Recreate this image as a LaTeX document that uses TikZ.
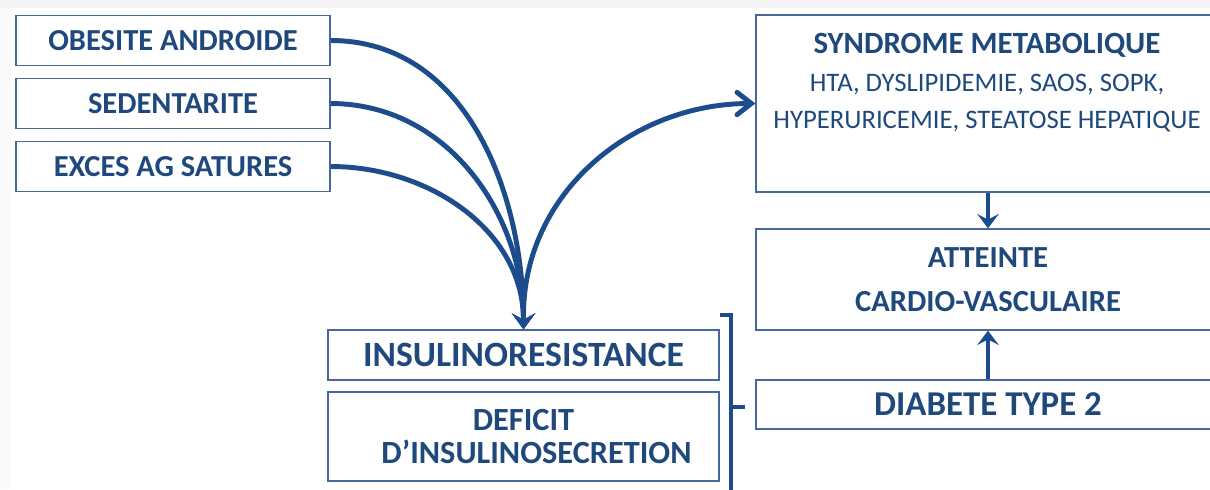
\documentclass[tikz,border=0pt]{standalone}
\usepackage{fontspec}
\setmainfont{Carlito}
\usetikzlibrary{positioning, arrows.meta, calc}
\definecolor{navy}{RGB}{31,73,125}
\definecolor{arrblue}{RGB}{28,76,140}
\definecolor{boxline}{RGB}{72,104,155}

\begin{document}
\begin{tikzpicture}[
    cause/.style={draw=boxline, line width=0.9pt, minimum width=7.85cm, minimum height=1.25cm,
      text=navy, font=\fontsize{21.7}{25}\selectfont\bfseries},
    rbox/.style={draw=boxline, line width=0.9pt, minimum width=11.6cm, text=navy, align=center},
    mbox/.style={draw=boxline, line width=0.9pt, minimum width=9.775cm, text=navy, align=center,
      font=\fontsize{23}{22.8}\selectfont\bfseries},
    txt/.style={text=navy, inner sep=0pt},
    arr/.style={draw=arrblue, line width=3.5pt, -{Stealth[length=4mm,width=5.8mm,inset=1.6mm]}},
    barb/.style={draw=arrblue, line width=3.5pt, line cap=round,
      -{Straight Barb[length=3.6mm,width=5.6mm,line cap=round]}},
    sarr/.style={draw=arrblue, line width=2.6pt, -{Stealth[length=3.6mm,width=5.4mm,inset=1.4mm]}}
  ]
\clip (0,0) rectangle (30.25,-12.225);
% light strips of the screenshot
\fill[gray!9] (0,0) rectangle (30.25,-0.2);
\fill[gray!4] (0,-0.2) rectangle (0.28,-12.225);

% =================== causes (left) ===================
\node[cause] (obes) at (4.325,-1.0125) {OBESITE ANDROIDE};
\node[cause] (sed) at (4.325,-2.5875) {SEDENTARITE};
\node[cause] (exc) at (4.325,-4.1625) {EXCES AG SATURES};

% =================== middle boxes ===================
\node[mbox, minimum height=1.25cm, font=\fontsize{25.3}{26}\selectfont\bfseries] (insu) at (13.0875,-8.875)
  {INSULINORESISTANCE};
\node[mbox, minimum height=2.225cm] (defi) at (13.0875,-10.9125)
  {DEFICIT\\\hspace*{0.65cm}D’INSULINOSECRETION};

% =================== right column ===================
\node[rbox, minimum height=4.425cm] (synd) at (24.7,-2.5875) {};
\node[txt, font=\fontsize{22}{24}\selectfont\bfseries] (syndt) at (24.675,-1.125) {SYNDROME METABOLIQUE};
\node[txt, font=\fontsize{19}{21}\selectfont] (synd1) at (24.675,-2.125) {HTA, DYSLIPIDEMIE, SAOS, SOPK,};
\node[txt, font=\fontsize{19}{21}\selectfont] (synd2) at (24.675,-3.05) {HYPERURICEMIE, STEATOSE HEPATIQUE};

\node[rbox, minimum height=2.525cm, font=\fontsize{21.8}{31.3}\selectfont\bfseries] (att) at (24.7,-6.9875)
  {ATTEINTE\\CARDIO-VASCULAIRE};
\node[rbox, minimum height=1.225cm, font=\fontsize{24.8}{28}\selectfont\bfseries] (diab) at (24.7,-10.1125)
  {DIABETE TYPE 2};

% =================== connectors ===================
\draw[arr] (obes.east) to[out=0, in=90] (insu.north);
\draw[arr] (sed.east) to[out=0, in=90] (insu.north);
\draw[arr] (exc.east) to[out=0, in=90] (insu.north);
\draw[barb] (insu.north) ++(0,0.35) to[out=90, in=180] (synd.west);

\draw[sarr] (synd.south) -- (att.north);
\draw[sarr] (diab.north) -- (att.south);

% bracket joining the two mechanisms to the diabetes box
\coordinate (brtop) at (18.0,-7.875);
\draw[arrblue, line width=2.8pt] (brtop) -| (18.275,-12.5);
\draw[arrblue, line width=2.8pt] (18.275,-10.175) -- (18.625,-10.175);

\end{tikzpicture}
\end{document}
